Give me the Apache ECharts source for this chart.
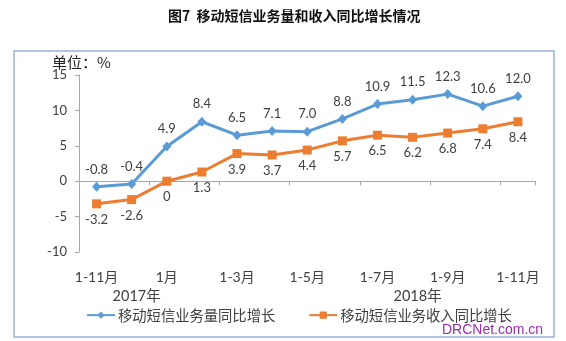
<!DOCTYPE html>
<html>
<head>
<meta charset="utf-8">
<script src="https://cdn.jsdelivr.net/npm/echarts@6/dist/echarts.min.js"></script>
<style>
html,body{margin:0;padding:0;background:#fff;}
#c{width:566px;height:341px;}
</style>
</head>
<body>
<div id="c"></div>
<script>
var categories = ['1-11月','1-12月','1月','1-2月','1-3月','1-4月','1-5月','1-6月','1-7月','1-8月','1-9月','1-10月','1-11月'];
var yearLabels = ['','2017年','','','','','','','','2018年','','',''];
var volumeGrowth = [-0.8,-0.4,4.9,8.4,6.5,7.1,7.0,8.8,10.9,11.5,12.3,10.6,12.0];
var revenueGrowth = [-3.2,-2.6,0,1.3,3.9,3.7,4.4,5.7,6.5,6.2,6.8,7.4,8.4];
var volumeLabels = ['-0.8','-0.4','4.9','8.4','6.5','7.1','7.0','8.8','10.9','11.5','12.3','10.6','12.0'];
var revenueLabels = ['-3.2','-2.6','0','1.3','3.9','3.7','4.4','5.7','6.5','6.2','6.8','7.4','8.4'];
var seriesNames = ['移动短信业务量同比增长','移动短信业务收入同比增长'];
var titleText = '图7  移动短信业务量和收入同比增长情况';
var unitText = '单位：%';

var numFont = 'Lato, "Noto Sans CJK SC", sans-serif';
var cjkFont = '"Noto Sans CJK SC", sans-serif';

var chart = echarts.init(document.getElementById('c'), null, {renderer:'canvas'});
chart.setOption({
  backgroundColor:'#fff',
  animation:false,
  title:{
    text:titleText, left:163, top:4,
    textStyle:{fontFamily:cjkFont, fontSize:14, fontWeight:'bold', color:'#111'}
  },
  grid:{left:79, right:30.5, top:75, bottom:89, containLabel:false},
  legend:{
    data:seriesNames, left:86, top:308, padding:0, itemWidth:28, itemHeight:9, itemGap:33,
    textStyle:{fontFamily:cjkFont, fontSize:14.3, color:'#404040', padding:[0,0,0,-2]}
  },
  xAxis:[{
    type:'category', data:categories, boundaryGap:true,
    axisLine:{lineStyle:{color:'#a6a6a6', width:1}},
    axisTick:{show:true, length:4, lineStyle:{color:'#a6a6a6'}},
    axisLabel:{interval:1, margin:18, fontFamily:numFont, fontSize:14, color:'#404040'}
  },{
    type:'category', data:yearLabels, position:'bottom', boundaryGap:true,
    axisLine:{show:false}, axisTick:{show:false},
    axisLabel:{interval:0, margin:37, fontFamily:numFont, fontSize:14.5, color:'#404040', padding:[0,0,0,10]}
  }],
  yAxis:{
    type:'value', min:-10, max:15, interval:5,
    axisLine:{show:true, lineStyle:{color:'#a6a6a6', width:1}},
    axisTick:{show:true, length:4, lineStyle:{color:'#a6a6a6'}},
    splitLine:{show:false},
    axisLabel:{margin:12, fontFamily:numFont, fontSize:13, color:'#404040'}
  },
  series:[{
    name:seriesNames[0], type:'line', data:volumeGrowth,
    symbol:'diamond', symbolSize:[9,10],
    lineStyle:{color:'#5B9BD5', width:3},
    itemStyle:{color:'#5B9BD5'},
    label:{show:true, position:'top', distance:6, fontFamily:numFont, fontSize:13, color:'#404040',
      formatter:function(p){return volumeLabels[p.dataIndex];}}
  },{
    name:seriesNames[1], type:'line', data:revenueGrowth,
    symbol:'rect', symbolSize:9,
    lineStyle:{color:'#ED7D31', width:3},
    itemStyle:{color:'#ED7D31'},
    label:{show:true, position:'bottom', distance:5, fontFamily:numFont, fontSize:13, color:'#404040',
      formatter:function(p){return revenueLabels[p.dataIndex];}}
  }],
  graphic:[
    {type:'rect', shape:{x:14, y:51, width:540, height:286}, style:{fill:null, stroke:'#97B4DA', lineWidth:1.5}, silent:true, z:-1},
    {type:'text', left:52, top:55, style:{text:unitText, font:'15px "Noto Sans CJK SC", sans-serif', fill:'#222'}},
    {type:'text', left:442, top:323, style:{text:'DRCNet.com.cn', font:'14px "Liberation Sans", Arial, sans-serif', fill:'#9C2BAF'}}
  ]
});
</script>
</body>
</html>
